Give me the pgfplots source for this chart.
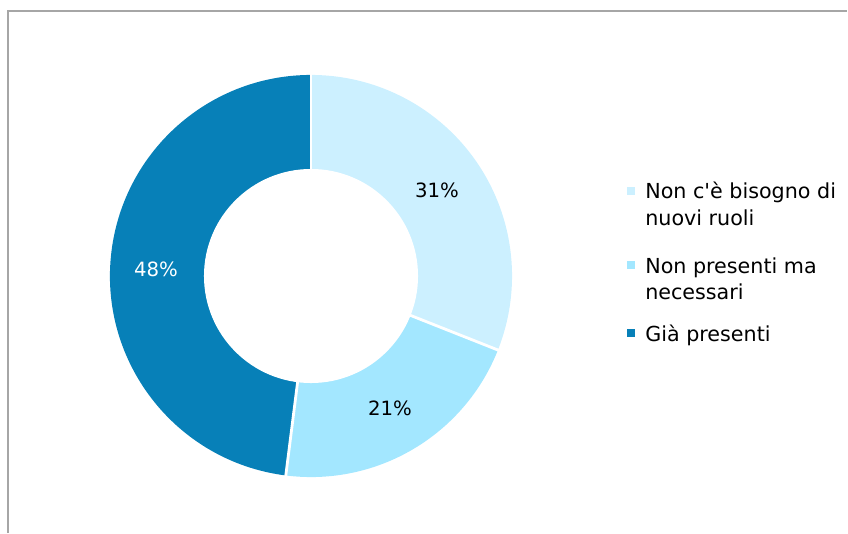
\documentclass[border=0pt]{standalone}
\usepackage{pgfplots}
\pgfplotsset{compat=1.18}
\usepackage{pgfplotstable}
\usepackage{fontspec}
\setmainfont{DejaVu Sans}[Ligatures=TeXOff]

\definecolor{cLight}{RGB}{204,240,255}
\definecolor{cMid}{RGB}{163,231,255}
\definecolor{cDark}{RGB}{7,128,184}
\definecolor{frameGray}{RGB}{166,166,166}

% shares in percent, clockwise from 12 o'clock
\pgfplotstableread{
share
31
21
48
}\shares

\pgfplotstablegetelem{0}{share}\of\shares
\pgfmathsetmacro\aA{90-3.6*\pgfplotsretval}
\pgfplotstablegetelem{1}{share}\of\shares
\pgfmathsetmacro\aB{\aA-3.6*\pgfplotsretval}

\begin{document}
\begin{tikzpicture}
\begin{axis}[x=0.025cm, y=0.025cm,
  xmin=0, xmax=848, ymin=0, ymax=533,
  hide axis, clip=false]
\path (axis cs:0,0) rectangle (axis cs:848,533);
\coordinate (c) at (axis cs:311,257);
% frame
\draw[frameGray, line width=1.4pt] (axis cs:8,0) -- (axis cs:8,522) -- (axis cs:847,522);
% slices
\fill[cLight] (c) -- ++(90:5.025cm) arc[start angle=90, end angle=\aA, radius=5.025cm] -- cycle;
\fill[cMid] (c) -- ++(\aA:5.025cm) arc[start angle=\aA, end angle=\aB, radius=5.025cm] -- cycle;
\fill[cDark] (c) -- ++(\aB:5.025cm) arc[start angle=\aB, end angle=-270, radius=5.025cm] -- cycle;
\draw[white, line width=2pt] (c) -- ++(90:5.1cm);
\draw[white, line width=2pt] (c) -- ++(\aA:5.1cm);
\draw[white, line width=2pt] (c) -- ++(\aB:5.1cm);
\fill[white] (c) circle[radius=2.675cm];
% data labels
\node[font=\fontsize{14}{17}\selectfont] at (axis cs:437,343) {31\%};
\node[font=\fontsize{14}{17}\selectfont] at (axis cs:390,125) {21\%};
\node[font=\fontsize{14}{17}\selectfont, white] at (axis cs:156,264) {48\%};
% legend
\fill[cLight] (axis cs:627,338) rectangle (axis cs:635,346);
\fill[cMid] (axis cs:627,264) rectangle (axis cs:635,272);
\fill[cDark] (axis cs:627,196) rectangle (axis cs:635,204);
\node[anchor=base west, inner sep=0pt, font=\fontsize{14.7}{18}\selectfont] at (axis cs:645,334) {Non c'è bisogno di};
\node[anchor=base west, inner sep=0pt, font=\fontsize{14.7}{18}\selectfont] at (axis cs:645,308) {nuovi ruoli};
\node[anchor=base west, inner sep=0pt, font=\fontsize{14.7}{18}\selectfont] at (axis cs:645,260) {Non presenti ma};
\node[anchor=base west, inner sep=0pt, font=\fontsize{14.7}{18}\selectfont] at (axis cs:645,234) {necessari};
\node[anchor=base west, inner sep=0pt, font=\fontsize{14.7}{18}\selectfont] at (axis cs:645,192) {Già presenti};
\end{axis}
\end{tikzpicture}
\end{document}
